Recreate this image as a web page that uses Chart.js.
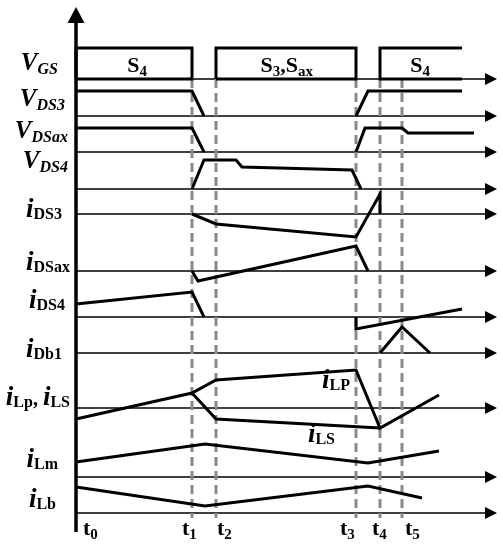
<!DOCTYPE html>
<html>
<head>
<meta charset="utf-8">
<script src="https://cdn.jsdelivr.net/npm/chart.js@4"></script>
<style>
  html, body { margin: 0; padding: 0; background: #fff; }
  #wrap { width: 503px; height: 550px; }
</style>
</head>
<body>
<div id="wrap"><canvas id="chart" width="503" height="550"></canvas></div>
<script>
// time instants t0..t5 (horizontal axis units)
const instants = [76, 192, 216, 356, 380, 402];
const instantLabels = ['0', '1', '2', '3', '4', '5'];
const dashedInstants = [192, 216, 356, 380, 402];

// zero level of each trace (vertical units, top = 0)
const baselines = [79, 116, 152, 189, 214, 271, 317, 353, 408, 477, 513];

// waveforms, [time, level]
const vgs = [
  [[76, 79], [76, 48], [192, 48], [192, 79], [76, 79]],
  [[216, 79], [216, 48], [356, 48], [356, 79], [216, 79]],
  [[462, 48], [380, 48], [380, 79], [462, 79]]
];
const vds3 = [
  [[76, 91], [192, 91], [204, 116]],
  [[356, 116], [368, 91], [462, 91]]
];
const vdsax = [
  [[76, 128], [192, 128], [204, 152]],
  [[356, 152], [365, 128], [402, 128], [408, 133], [474, 133]]
];
const vds4 = [
  [[192, 189], [204, 160], [236, 160], [242, 167], [352, 170], [361, 189]]
];
const ids3 = [
  [[192, 214], [216, 224], [356, 237], [380, 194], [380, 214]]
];
const idsax = [
  [[192, 271], [198, 281], [356, 246], [368, 271]]
];
const ids4 = [
  [[76, 304], [192, 292], [204, 317]],
  [[356, 317], [356, 329], [462, 309]]
];
const idb1 = [
  [[380, 353], [402, 327], [430, 353]]
];
const ilp = [
  [[76, 419], [192, 393], [216, 380], [356, 370], [380, 428], [439, 395]]
];
const ils = [
  [[192, 393], [216, 419], [380, 428]]
];
const ilm = [
  [[76, 462], [205, 444], [368, 463], [439, 451]]
];
const ilb = [
  [[76, 487], [205, 506], [368, 486], [422, 498]]
];

// row labels: segments [text, style], right edge, baseline
const rowLabels = [
  [[['V', 'V'], ['GS', 'VS']], 58, 70],
  [[['V', 'V'], ['DS3', 'VS']], 65, 106],
  [[['V', 'V'], ['DSax', 'VS']], 68, 138],
  [[['V', 'V'], ['DS4', 'VS']], 68, 168],
  [[['i', 'I'], ['DS3', 'IS']], 62, 217],
  [[['i', 'I'], ['DSax', 'IS']], 70, 270],
  [[['i', 'I'], ['DS4', 'IS']], 65, 308],
  [[['i', 'I'], ['Db1', 'IS']], 62, 357],
  [[['i', 'I'], ['Lp', 'IS'], [', ', 'N'], ['i', 'I'], ['LS', 'IS']], 70, 405],
  [[['i', 'I'], ['Lm', 'IS']], 58, 467],
  [[['i', 'I'], ['Lb', 'IS']], 56, 507]
];
const inlineLabels = [
  [[['i', 'I'], ['LP', 'IS']], 350, 388],
  [[['i', 'I'], ['LS', 'IS']], 335, 442]
];
const switchLabels = [
  [[['S', 'S'], ['4', 'SS']], 147, 72],
  [[['S', 'S'], ['3', 'SS'], [',', 'S'], ['S', 'S'], ['ax', 'SS']], 313, 72],
  [[['S', 'S'], ['4', 'SS']], 430, 72]
];

const styles = {
  V:  { font: 'italic bold 25px "Liberation Serif"', dy: 0 },
  VS: { font: 'italic bold 16px "Liberation Serif"', dy: 4 },
  I:  { font: 'italic bold 27px "Liberation Serif"', dy: 0 },
  IS: { font: 'bold 16px "Liberation Serif"', dy: 2 },
  N:  { font: 'bold 20px "Liberation Serif"', dy: 0 },
  S:  { font: 'bold 22px "Liberation Serif"', dy: 0 },
  SS: { font: 'bold 15px "Liberation Serif"', dy: 4 },
  T:  { font: 'bold 22px "Liberation Serif"', dy: 0 },
  TS: { font: 'bold 15px "Liberation Serif"', dy: 4 }
};

const toPts = seg => seg.map(p => ({ x: p[0], y: p[1] }));

const datasets = [];
dashedInstants.forEach(t => {
  datasets.push({
    data: [{ x: t, y: 79 }, { x: t, y: 518 }],
    borderColor: '#8a8a8a',
    borderWidth: 3,
    borderDash: [9, 5],
    order: 10
  });
});
[vgs, vds3, vdsax, vds4, ids3, idsax, ids4, idb1, ilp, ils, ilm, ilb].forEach(trace => {
  trace.forEach(seg => {
    datasets.push({
      data: toPts(seg),
      borderColor: '#000',
      borderWidth: 3,
      order: 0
    });
  });
});

function drawRich(ctx, segs, right, base) {
  let w = 0;
  segs.forEach(([txt, st]) => {
    ctx.font = styles[st].font;
    w += ctx.measureText(txt).width;
  });
  let x = right - w;
  segs.forEach(([txt, st]) => {
    ctx.font = styles[st].font;
    ctx.fillText(txt, x, base + styles[st].dy);
    x += ctx.measureText(txt).width;
  });
}

const diagramPlugin = {
  id: 'diagram',
  beforeDatasetsDraw(chart) {
    const { ctx, scales: { x, y } } = chart;
    const x0 = x.getPixelForValue(instants[0]);
    const tip = x.getPixelForValue(497);
    ctx.save();
    ctx.strokeStyle = '#000';
    ctx.fillStyle = '#000';
    // baselines with arrows
    baselines.forEach(b => {
      const py = y.getPixelForValue(b);
      ctx.lineWidth = 1.5;
      ctx.beginPath();
      ctx.moveTo(x0, py);
      ctx.lineTo(tip - 8, py);
      ctx.stroke();
      ctx.beginPath();
      ctx.moveTo(tip, py);
      ctx.lineTo(tip - 12, py - 6);
      ctx.lineTo(tip - 12, py + 6);
      ctx.closePath();
      ctx.fill();
    });
    ctx.restore();
  },
  afterDatasetsDraw(chart) {
    const { ctx, scales: { x, y } } = chart;
    const ax = x.getPixelForValue(instants[0]);
    ctx.save();
    ctx.fillStyle = '#000';
    ctx.strokeStyle = '#000';
    // vertical axis
    ctx.lineWidth = 3.5;
    ctx.beginPath();
    ctx.moveTo(ax, y.getPixelForValue(532));
    ctx.lineTo(ax, y.getPixelForValue(20));
    ctx.stroke();
    ctx.beginPath();
    ctx.moveTo(ax, y.getPixelForValue(7));
    ctx.lineTo(ax - 8.5, y.getPixelForValue(23));
    ctx.lineTo(ax + 8.5, y.getPixelForValue(23));
    ctx.closePath();
    ctx.fill();

    ctx.textBaseline = 'alphabetic';
    rowLabels.concat(inlineLabels, switchLabels).forEach(([segs, r, b]) => {
      drawRich(ctx, segs, x.getPixelForValue(r), y.getPixelForValue(b));
    });
    // time labels
    const tOffsets = [7, -10, 1, -16, -8, 3];
    instants.forEach((t, i) => {
      const left = x.getPixelForValue(t) + tOffsets[i];
      ctx.font = styles.T.font;
      const wt = ctx.measureText('t').width;
      ctx.fillText('t', left, y.getPixelForValue(535));
      ctx.font = styles.TS.font;
      ctx.fillText(instantLabels[i], left + wt, y.getPixelForValue(535) + styles.TS.dy);
    });
    ctx.restore();
  }
};

new Chart(document.getElementById('chart'), {
  type: 'scatter',
  data: { datasets },
  options: {
    responsive: false,
    animation: false,
    devicePixelRatio: 1,
    showLine: true,
    layout: { padding: 0, autoPadding: false },
    elements: {
      point: { radius: 0, hoverRadius: 0 },
      line: { tension: 0, fill: false, borderCapStyle: 'butt', borderJoinStyle: 'miter' }
    },
    plugins: { legend: { display: false }, tooltip: { enabled: false } },
    events: [],
    scales: {
      x: { type: 'linear', display: false, min: 0, max: 503 },
      y: { type: 'linear', display: false, min: 0, max: 550, reverse: true }
    }
  },
  plugins: [diagramPlugin]
});
</script>
</body>
</html>
